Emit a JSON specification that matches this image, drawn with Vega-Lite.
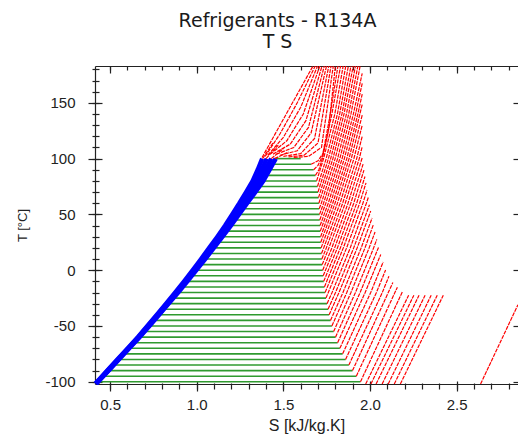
{
  "$schema": "https://vega.github.io/schema/vega-lite/v6.json",
  "width": 423,
  "height": 318,
  "autosize": {"type": "none"},
  "padding": {"left": 95, "top": 66, "right": 0, "bottom": 50},
  "background": "white",
  "config": {
    "view": {"stroke": null},
    "axis": {"grid": false, "labelFont": "Liberation Sans", "titleFont": "Liberation Sans", "domainColor": "#222", "tickColor": "#222", "labelColor": "#222", "titleColor": "#222", "titleFontWeight": "normal", "domainWidth": 1.2, "tickWidth": 1.2}
  },
  "title": {"text": ["Refrigerants - R134A", "T S"], "font": "DejaVu Sans", "fontSize": 19, "fontWeight": "normal", "color": "#1a1a1a", "lineHeight": 21.5, "anchor": "middle", "frame": "group", "dx": -29, "offset": 13},
  "resolve": {"axis": {"x": "independent", "y": "independent"}},
  "datasets": {
    "ax": [{"S": 1, "T": 0}],
    "green": [
      {"T": -100, "a": 0.425, "b": 1.945}, {"T": -95, "a": 0.455, "b": 1.921}, {"T": -90, "a": 0.485, "b": 1.899},
      {"T": -85, "a": 0.515, "b": 1.878}, {"T": -80, "a": 0.545, "b": 1.859}, {"T": -75, "a": 0.575, "b": 1.842},
      {"T": -70, "a": 0.605, "b": 1.826}, {"T": -65, "a": 0.635, "b": 1.813}, {"T": -60, "a": 0.664, "b": 1.801},
      {"T": -55, "a": 0.692, "b": 1.79}, {"T": -50, "a": 0.721, "b": 1.78}, {"T": -45, "a": 0.749, "b": 1.772},
      {"T": -40, "a": 0.777, "b": 1.764}, {"T": -35, "a": 0.805, "b": 1.758}, {"T": -30, "a": 0.832, "b": 1.752},
      {"T": -25, "a": 0.86, "b": 1.746}, {"T": -20, "a": 0.887, "b": 1.741}, {"T": -15, "a": 0.914, "b": 1.737},
      {"T": -10, "a": 0.94, "b": 1.733}, {"T": -5, "a": 0.966, "b": 1.73}, {"T": 0, "a": 0.992, "b": 1.727},
      {"T": 5, "a": 1.018, "b": 1.724}, {"T": 10, "a": 1.043, "b": 1.722}, {"T": 15, "a": 1.068, "b": 1.72},
      {"T": 20, "a": 1.093, "b": 1.718}, {"T": 25, "a": 1.118, "b": 1.716}, {"T": 30, "a": 1.143, "b": 1.715},
      {"T": 35, "a": 1.167, "b": 1.713}, {"T": 40, "a": 1.191, "b": 1.712}, {"T": 45, "a": 1.215, "b": 1.71},
      {"T": 50, "a": 1.238, "b": 1.709}, {"T": 55, "a": 1.262, "b": 1.707}, {"T": 60, "a": 1.285, "b": 1.705},
      {"T": 65, "a": 1.308, "b": 1.703}, {"T": 70, "a": 1.332, "b": 1.7}, {"T": 75, "a": 1.355, "b": 1.697},
      {"T": 80, "a": 1.378, "b": 1.692}, {"T": 85, "a": 1.397, "b": 1.685}, {"T": 90, "a": 1.415, "b": 1.675},
      {"T": 95, "a": 1.433, "b": 1.66}, {"T": 100, "a": 1.45, "b": 1.6}
    ],
    "blue": [
      {"id": "R", "T": -101.5, "S": 0.422}, {"id": "R", "T": -100, "S": 0.431}, {"id": "R", "T": -90, "S": 0.491},
      {"id": "R", "T": -80, "S": 0.551}, {"id": "R", "T": -70, "S": 0.611}, {"id": "R", "T": -60, "S": 0.67},
      {"id": "R", "T": -50, "S": 0.727}, {"id": "R", "T": -40, "S": 0.783}, {"id": "R", "T": -30, "S": 0.838},
      {"id": "R", "T": -20, "S": 0.893}, {"id": "R", "T": -10, "S": 0.946}, {"id": "R", "T": 0, "S": 0.998},
      {"id": "R", "T": 10, "S": 1.049}, {"id": "R", "T": 20, "S": 1.099}, {"id": "R", "T": 30, "S": 1.149},
      {"id": "R", "T": 40, "S": 1.197}, {"id": "R", "T": 50, "S": 1.244}, {"id": "R", "T": 60, "S": 1.291},
      {"id": "R", "T": 70, "S": 1.338}, {"id": "R", "T": 80, "S": 1.384}, {"id": "R", "T": 90, "S": 1.421},
      {"id": "R", "T": 100, "S": 1.456},
      {"id": "M1", "T": -101.5, "S": 0.42}, {"id": "M1", "T": -100, "S": 0.429}, {"id": "M1", "T": -90, "S": 0.489},
      {"id": "M1", "T": -80, "S": 0.548}, {"id": "M1", "T": -70, "S": 0.608}, {"id": "M1", "T": -60, "S": 0.667},
      {"id": "M1", "T": -50, "S": 0.723}, {"id": "M1", "T": -40, "S": 0.779}, {"id": "M1", "T": -30, "S": 0.833},
      {"id": "M1", "T": -20, "S": 0.887}, {"id": "M1", "T": -10, "S": 0.94}, {"id": "M1", "T": 0, "S": 0.991},
      {"id": "M1", "T": 10, "S": 1.041}, {"id": "M1", "T": 20, "S": 1.09}, {"id": "M1", "T": 30, "S": 1.139},
      {"id": "M1", "T": 40, "S": 1.186}, {"id": "M1", "T": 50, "S": 1.231}, {"id": "M1", "T": 60, "S": 1.276},
      {"id": "M1", "T": 70, "S": 1.32}, {"id": "M1", "T": 80, "S": 1.364}, {"id": "M1", "T": 90, "S": 1.398},
      {"id": "M1", "T": 100, "S": 1.43},
      {"id": "M2", "T": -101.5, "S": 0.418}, {"id": "M2", "T": -100, "S": 0.427}, {"id": "M2", "T": -90, "S": 0.486},
      {"id": "M2", "T": -80, "S": 0.545}, {"id": "M2", "T": -70, "S": 0.605}, {"id": "M2", "T": -60, "S": 0.663},
      {"id": "M2", "T": -50, "S": 0.719}, {"id": "M2", "T": -40, "S": 0.774}, {"id": "M2", "T": -30, "S": 0.828},
      {"id": "M2", "T": -20, "S": 0.882}, {"id": "M2", "T": -10, "S": 0.933}, {"id": "M2", "T": 0, "S": 0.984},
      {"id": "M2", "T": 10, "S": 1.033}, {"id": "M2", "T": 20, "S": 1.081}, {"id": "M2", "T": 30, "S": 1.129},
      {"id": "M2", "T": 40, "S": 1.175}, {"id": "M2", "T": 50, "S": 1.218}, {"id": "M2", "T": 60, "S": 1.261},
      {"id": "M2", "T": 70, "S": 1.303}, {"id": "M2", "T": 80, "S": 1.343}, {"id": "M2", "T": 90, "S": 1.375},
      {"id": "M2", "T": 100, "S": 1.404},
      {"id": "L", "T": -101.5, "S": 0.416}, {"id": "L", "T": -100, "S": 0.425}, {"id": "L", "T": -90, "S": 0.484},
      {"id": "L", "T": -80, "S": 0.542}, {"id": "L", "T": -70, "S": 0.602}, {"id": "L", "T": -60, "S": 0.66},
      {"id": "L", "T": -50, "S": 0.715}, {"id": "L", "T": -40, "S": 0.77}, {"id": "L", "T": -30, "S": 0.823},
      {"id": "L", "T": -20, "S": 0.876}, {"id": "L", "T": -10, "S": 0.927}, {"id": "L", "T": 0, "S": 0.977},
      {"id": "L", "T": 10, "S": 1.025}, {"id": "L", "T": 20, "S": 1.072}, {"id": "L", "T": 30, "S": 1.119},
      {"id": "L", "T": 40, "S": 1.164}, {"id": "L", "T": 50, "S": 1.205}, {"id": "L", "T": 60, "S": 1.246},
      {"id": "L", "T": 70, "S": 1.285}, {"id": "L", "T": 80, "S": 1.323}, {"id": "L", "T": 90, "S": 1.352},
      {"id": "L", "T": 100, "S": 1.378}
    ],
    "red": [
      {"id": "L1", "o": 0, "S": 1.975, "T": -102}, {"id": "L1", "o": 1, "S": 2.223, "T": -22.4},
      {"id": "L2", "o": 0, "S": 2.005, "T": -102}, {"id": "L2", "o": 1, "S": 2.253, "T": -22.4},
      {"id": "L3", "o": 0, "S": 2.035, "T": -102}, {"id": "L3", "o": 1, "S": 2.283, "T": -22.4},
      {"id": "L4", "o": 0, "S": 2.07, "T": -102}, {"id": "L4", "o": 1, "S": 2.318, "T": -22.4},
      {"id": "L5", "o": 0, "S": 2.105, "T": -102}, {"id": "L5", "o": 1, "S": 2.353, "T": -22.4},
      {"id": "L6", "o": 0, "S": 2.14, "T": -102}, {"id": "L6", "o": 1, "S": 2.388, "T": -22.4},
      {"id": "L7", "o": 0, "S": 2.175, "T": -102}, {"id": "L7", "o": 1, "S": 2.423, "T": -22.4},
      {"id": "L8", "o": 0, "S": 2.638, "T": -102}, {"id": "L8", "o": 1, "S": 2.854, "T": -30.9},
      {"id": "a-100", "o": 0, "S": 1.945, "T": -100}, {"id": "a-100", "o": 1, "S": 2.187, "T": -19.3},
      {"id": "a-95", "o": 0, "S": 1.921, "T": -95}, {"id": "a-95", "o": 1, "S": 2.158, "T": -15.2},
      {"id": "a-90", "o": 0, "S": 1.899, "T": -90}, {"id": "a-90", "o": 1, "S": 2.132, "T": -11},
      {"id": "a-85", "o": 0, "S": 1.878, "T": -85}, {"id": "a-85", "o": 1, "S": 2.071, "T": -20}, {"id": "a-85", "o": 2, "S": 2.109, "T": -5.5},
      {"id": "a-80", "o": 0, "S": 1.859, "T": -80}, {"id": "a-80", "o": 1, "S": 2.037, "T": -20}, {"id": "a-80", "o": 2, "S": 2.09, "T": 0.2},
      {"id": "a-75", "o": 0, "S": 1.842, "T": -75}, {"id": "a-75", "o": 1, "S": 2.004, "T": -20}, {"id": "a-75", "o": 2, "S": 2.076, "T": 7.3},
      {"id": "a-70", "o": 0, "S": 1.826, "T": -70}, {"id": "a-70", "o": 1, "S": 1.972, "T": -20}, {"id": "a-70", "o": 2, "S": 2.062, "T": 14.1},
      {"id": "a-65", "o": 0, "S": 1.813, "T": -65}, {"id": "a-65", "o": 1, "S": 1.943, "T": -20}, {"id": "a-65", "o": 2, "S": 2.049, "T": 20.4},
      {"id": "a-60", "o": 0, "S": 1.801, "T": -60}, {"id": "a-60", "o": 1, "S": 1.916, "T": -20}, {"id": "a-60", "o": 2, "S": 2.021, "T": 20}, {"id": "a-60", "o": 3, "S": 2.039, "T": 27.6},
      {"id": "a-55", "o": 0, "S": 1.79, "T": -55}, {"id": "a-55", "o": 1, "S": 1.89, "T": -20}, {"id": "a-55", "o": 2, "S": 1.995, "T": 20}, {"id": "a-55", "o": 3, "S": 2.029, "T": 34.2},
      {"id": "a-50", "o": 0, "S": 1.78, "T": -50}, {"id": "a-50", "o": 1, "S": 1.866, "T": -20}, {"id": "a-50", "o": 2, "S": 1.971, "T": 20}, {"id": "a-50", "o": 3, "S": 2.019, "T": 40.6},
      {"id": "a-45", "o": 0, "S": 1.772, "T": -45}, {"id": "a-45", "o": 1, "S": 1.844, "T": -20}, {"id": "a-45", "o": 2, "S": 1.949, "T": 20}, {"id": "a-45", "o": 3, "S": 2.012, "T": 46.8},
      {"id": "a-40", "o": 0, "S": 1.764, "T": -40}, {"id": "a-40", "o": 1, "S": 1.821, "T": -20}, {"id": "a-40", "o": 2, "S": 1.926, "T": 20}, {"id": "a-40", "o": 3, "S": 2.004, "T": 53},
      {"id": "a-35", "o": 0, "S": 1.758, "T": -35}, {"id": "a-35", "o": 1, "S": 1.801, "T": -20}, {"id": "a-35", "o": 2, "S": 1.906, "T": 20}, {"id": "a-35", "o": 3, "S": 1.997, "T": 58.7},
      {"id": "a-30", "o": 0, "S": 1.752, "T": -30}, {"id": "a-30", "o": 1, "S": 1.781, "T": -20}, {"id": "a-30", "o": 2, "S": 1.886, "T": 20}, {"id": "a-30", "o": 3, "S": 1.979, "T": 60}, {"id": "a-30", "o": 4, "S": 1.99, "T": 65.2},
      {"id": "a-25", "o": 0, "S": 1.746, "T": -25}, {"id": "a-25", "o": 1, "S": 1.865, "T": 20}, {"id": "a-25", "o": 2, "S": 1.959, "T": 60}, {"id": "a-25", "o": 3, "S": 1.983, "T": 71.9},
      {"id": "a-20", "o": 0, "S": 1.741, "T": -20}, {"id": "a-20", "o": 1, "S": 1.846, "T": 20}, {"id": "a-20", "o": 2, "S": 1.94, "T": 60}, {"id": "a-20", "o": 3, "S": 1.977, "T": 78.3},
      {"id": "a-15", "o": 0, "S": 1.737, "T": -15}, {"id": "a-15", "o": 1, "S": 1.829, "T": 20}, {"id": "a-15", "o": 2, "S": 1.923, "T": 60}, {"id": "a-15", "o": 3, "S": 1.971, "T": 84},
      {"id": "a-10", "o": 0, "S": 1.733, "T": -10}, {"id": "a-10", "o": 1, "S": 1.812, "T": 20}, {"id": "a-10", "o": 2, "S": 1.906, "T": 60}, {"id": "a-10", "o": 3, "S": 1.965, "T": 89.7},
      {"id": "a-5", "o": 0, "S": 1.73, "T": -5}, {"id": "a-5", "o": 1, "S": 1.796, "T": 20}, {"id": "a-5", "o": 2, "S": 1.889, "T": 60}, {"id": "a-5", "o": 3, "S": 1.96, "T": 95},
      {"id": "a0", "o": 0, "S": 1.727, "T": 0}, {"id": "a0", "o": 1, "S": 1.78, "T": 20}, {"id": "a0", "o": 2, "S": 1.873, "T": 60}, {"id": "a0", "o": 3, "S": 1.955, "T": 100.8},
      {"id": "a5", "o": 0, "S": 1.724, "T": 5}, {"id": "a5", "o": 1, "S": 1.763, "T": 20}, {"id": "a5", "o": 2, "S": 1.857, "T": 60}, {"id": "a5", "o": 3, "S": 1.938, "T": 100}, {"id": "a5", "o": 4, "S": 1.955, "T": 110.8},
      {"id": "a10", "o": 0, "S": 1.722, "T": 10}, {"id": "a10", "o": 1, "S": 1.748, "T": 20}, {"id": "a10", "o": 2, "S": 1.842, "T": 60}, {"id": "a10", "o": 3, "S": 1.923, "T": 100}, {"id": "a10", "o": 4, "S": 1.955, "T": 120},
      {"id": "a15", "o": 0, "S": 1.72, "T": 15}, {"id": "a15", "o": 1, "S": 1.733, "T": 20}, {"id": "a15", "o": 2, "S": 1.827, "T": 60}, {"id": "a15", "o": 3, "S": 1.907, "T": 100}, {"id": "a15", "o": 4, "S": 1.955, "T": 130},
      {"id": "a20", "o": 0, "S": 1.718, "T": 20}, {"id": "a20", "o": 1, "S": 1.812, "T": 60}, {"id": "a20", "o": 2, "S": 1.892, "T": 100}, {"id": "a20", "o": 3, "S": 1.955, "T": 139},
      {"id": "a25", "o": 0, "S": 1.716, "T": 25}, {"id": "a25", "o": 1, "S": 1.798, "T": 60}, {"id": "a25", "o": 2, "S": 1.879, "T": 100}, {"id": "a25", "o": 3, "S": 1.955, "T": 148.6},
      {"id": "a30", "o": 0, "S": 1.715, "T": 30}, {"id": "a30", "o": 1, "S": 1.785, "T": 60}, {"id": "a30", "o": 2, "S": 1.866, "T": 100}, {"id": "a30", "o": 3, "S": 1.93, "T": 140}, {"id": "a30", "o": 4, "S": 1.955, "T": 157.8},
      {"id": "a35", "o": 0, "S": 1.713, "T": 35}, {"id": "a35", "o": 1, "S": 1.772, "T": 60}, {"id": "a35", "o": 2, "S": 1.852, "T": 100}, {"id": "a35", "o": 3, "S": 1.917, "T": 140}, {"id": "a35", "o": 4, "S": 1.955, "T": 167.5},
      {"id": "a40", "o": 0, "S": 1.712, "T": 40}, {"id": "a40", "o": 1, "S": 1.759, "T": 60}, {"id": "a40", "o": 2, "S": 1.839, "T": 100}, {"id": "a40", "o": 3, "S": 1.904, "T": 140}, {"id": "a40", "o": 4, "S": 1.955, "T": 176.5},
      {"id": "a45", "o": 0, "S": 1.71, "T": 45}, {"id": "a45", "o": 1, "S": 1.745, "T": 60}, {"id": "a45", "o": 2, "S": 1.826, "T": 100}, {"id": "a45", "o": 3, "S": 1.89, "T": 140}, {"id": "a45", "o": 4, "S": 1.943, "T": 183},
      {"id": "a50", "o": 0, "S": 1.709, "T": 50}, {"id": "a50", "o": 1, "S": 1.732, "T": 60}, {"id": "a50", "o": 2, "S": 1.813, "T": 100}, {"id": "a50", "o": 3, "S": 1.877, "T": 140}, {"id": "a50", "o": 4, "S": 1.93, "T": 183},
      {"id": "a55", "o": 0, "S": 1.707, "T": 55}, {"id": "a55", "o": 1, "S": 1.719, "T": 60}, {"id": "a55", "o": 2, "S": 1.799, "T": 100}, {"id": "a55", "o": 3, "S": 1.864, "T": 140}, {"id": "a55", "o": 4, "S": 1.916, "T": 183},
      {"id": "a60", "o": 0, "S": 1.705, "T": 60}, {"id": "a60", "o": 1, "S": 1.786, "T": 100}, {"id": "a60", "o": 2, "S": 1.85, "T": 140}, {"id": "a60", "o": 3, "S": 1.903, "T": 183},
      {"id": "a65", "o": 0, "S": 1.703, "T": 65}, {"id": "a65", "o": 1, "S": 1.773, "T": 100}, {"id": "a65", "o": 2, "S": 1.838, "T": 140}, {"id": "a65", "o": 3, "S": 1.89, "T": 183},
      {"id": "a70", "o": 0, "S": 1.7, "T": 70}, {"id": "a70", "o": 1, "S": 1.76, "T": 100}, {"id": "a70", "o": 2, "S": 1.825, "T": 140}, {"id": "a70", "o": 3, "S": 1.875, "T": 183},
      {"id": "a75", "o": 0, "S": 1.697, "T": 75}, {"id": "a75", "o": 1, "S": 1.747, "T": 100}, {"id": "a75", "o": 2, "S": 1.812, "T": 140}, {"id": "a75", "o": 3, "S": 1.86, "T": 183},
      {"id": "a80", "o": 0, "S": 1.692, "T": 80}, {"id": "a80", "o": 1, "S": 1.732, "T": 100}, {"id": "a80", "o": 2, "S": 1.797, "T": 140}, {"id": "a80", "o": 3, "S": 1.845, "T": 183},
      {"id": "a85", "o": 0, "S": 1.685, "T": 85}, {"id": "a85", "o": 1, "S": 1.705, "T": 90}, {"id": "a85", "o": 2, "S": 1.725, "T": 100}, {"id": "a85", "o": 3, "S": 1.78, "T": 140}, {"id": "a85", "o": 4, "S": 1.83, "T": 183},
      {"id": "a90", "o": 0, "S": 1.675, "T": 90}, {"id": "a90", "o": 1, "S": 1.7, "T": 94}, {"id": "a90", "o": 2, "S": 1.725, "T": 102}, {"id": "a90", "o": 3, "S": 1.765, "T": 135}, {"id": "a90", "o": 4, "S": 1.815, "T": 183},
      {"id": "a95", "o": 0, "S": 1.66, "T": 95}, {"id": "a95", "o": 1, "S": 1.7, "T": 98}, {"id": "a95", "o": 2, "S": 1.73, "T": 105}, {"id": "a95", "o": 3, "S": 1.76, "T": 125}, {"id": "a95", "o": 4, "S": 1.8, "T": 183},
      {"id": "f0", "o": 0, "S": 1.377, "T": 101}, {"id": "f0", "o": 1, "S": 1.671, "T": 183},
      {"id": "f1", "o": 0, "S": 1.395, "T": 102}, {"id": "f1", "o": 1, "S": 1.48, "T": 122}, {"id": "f1", "o": 2, "S": 1.58, "T": 150}, {"id": "f1", "o": 3, "S": 1.684, "T": 183},
      {"id": "f2", "o": 0, "S": 1.41, "T": 103}, {"id": "f2", "o": 1, "S": 1.5, "T": 119}, {"id": "f2", "o": 2, "S": 1.6, "T": 146}, {"id": "f2", "o": 3, "S": 1.697, "T": 183},
      {"id": "f3", "o": 0, "S": 1.425, "T": 104}, {"id": "f3", "o": 1, "S": 1.52, "T": 116}, {"id": "f3", "o": 2, "S": 1.615, "T": 140}, {"id": "f3", "o": 3, "S": 1.71, "T": 183},
      {"id": "f4", "o": 0, "S": 1.44, "T": 104}, {"id": "f4", "o": 1, "S": 1.54, "T": 113}, {"id": "f4", "o": 2, "S": 1.63, "T": 134}, {"id": "f4", "o": 3, "S": 1.723, "T": 183},
      {"id": "f5", "o": 0, "S": 1.46, "T": 104}, {"id": "f5", "o": 1, "S": 1.56, "T": 110}, {"id": "f5", "o": 2, "S": 1.645, "T": 128}, {"id": "f5", "o": 3, "S": 1.736, "T": 183},
      {"id": "f6", "o": 0, "S": 1.48, "T": 103}, {"id": "f6", "o": 1, "S": 1.58, "T": 107}, {"id": "f6", "o": 2, "S": 1.66, "T": 123}, {"id": "f6", "o": 3, "S": 1.749, "T": 183},
      {"id": "f7", "o": 0, "S": 1.5, "T": 102}, {"id": "f7", "o": 1, "S": 1.6, "T": 104.5}, {"id": "f7", "o": 2, "S": 1.68, "T": 118}, {"id": "f7", "o": 3, "S": 1.762, "T": 183},
      {"id": "f8", "o": 0, "S": 1.53, "T": 101.5}, {"id": "f8", "o": 1, "S": 1.62, "T": 103}, {"id": "f8", "o": 2, "S": 1.7, "T": 114}, {"id": "f8", "o": 3, "S": 1.775, "T": 183},
      {"id": "f9", "o": 0, "S": 1.56, "T": 101}, {"id": "f9", "o": 1, "S": 1.645, "T": 102}, {"id": "f9", "o": 2, "S": 1.72, "T": 110}, {"id": "f9", "o": 3, "S": 1.788, "T": 183},
      {"id": "b1", "o": 0, "S": 1.38, "T": 100}, {"id": "b1", "o": 1, "S": 1.44, "T": 114},
      {"id": "b2", "o": 0, "S": 1.4, "T": 100}, {"id": "b2", "o": 1, "S": 1.47, "T": 112},
      {"id": "b3", "o": 0, "S": 1.43, "T": 100}, {"id": "b3", "o": 1, "S": 1.5, "T": 109},
      {"id": "b4", "o": 0, "S": 1.45, "T": 100}, {"id": "b4", "o": 1, "S": 1.53, "T": 106}
    ]
  },
  "layer": [
    {
      "data": {"name": "green"},
      "mark": {"type": "rule", "color": "#2f9a2f", "strokeWidth": 1.6},
      "encoding": {
        "x": {"field": "a", "type": "quantitative", "scale": {"domain": [0.413, 2.854], "nice": false, "zero": false}, "axis": null},
        "x2": {"field": "b"},
        "y": {"field": "T", "type": "quantitative", "scale": {"domain": [-102, 183], "nice": false, "zero": false}, "axis": null}
      }
    },
    {
      "data": {"name": "blue"},
      "mark": {"type": "line", "color": "#0000ff", "strokeWidth": 4.5},
      "encoding": {
        "x": {"field": "S", "type": "quantitative", "scale": {"domain": [0.413, 2.854], "nice": false, "zero": false}, "axis": null},
        "y": {"field": "T", "type": "quantitative", "scale": {"domain": [-102, 183], "nice": false, "zero": false}, "axis": null},
        "detail": {"field": "id"},
        "order": {"field": "T"}
      }
    },
    {
      "data": {"name": "red"},
      "mark": {"type": "line", "color": "#ff0000", "strokeWidth": 1.2, "strokeDash": [4, 1], "clip": true},
      "encoding": {
        "x": {"field": "S", "type": "quantitative", "scale": {"domain": [0.413, 2.854], "nice": false, "zero": false}, "axis": null},
        "y": {"field": "T", "type": "quantitative", "scale": {"domain": [-102, 183], "nice": false, "zero": false}, "axis": null},
        "detail": {"field": "id"},
        "order": {"field": "o"}
      }
    },
    {
      "data": {"name": "ax"},
      "mark": {"type": "point", "opacity": 0},
      "encoding": {
        "x": {"field": "S", "type": "quantitative", "scale": {"domain": [0.413, 2.854], "nice": false, "zero": false},
              "axis": {"orient": "bottom", "domain": true, "ticks": false, "labels": false, "title": null}},
        "y": {"field": "T", "type": "quantitative", "scale": {"domain": [-102, 183], "nice": false, "zero": false},
              "axis": {"orient": "left", "domain": true, "ticks": false, "labels": false, "title": null}}
      }
    },
    {
      "data": {"name": "ax"},
      "mark": {"type": "point", "opacity": 0},
      "encoding": {
        "x": {"field": "S", "type": "quantitative", "scale": {"domain": [0.413, 2.854], "nice": false, "zero": false},
              "axis": {"orient": "bottom", "domain": false, "labels": false, "title": null, "offset": -1, "tickSize": 6,
                       "values": [0.5, 0.6, 0.7, 0.8, 0.9, 1.0, 1.1, 1.2, 1.3, 1.4, 1.5, 1.6, 1.7, 1.8, 1.9, 2.0, 2.1, 2.2, 2.3, 2.4, 2.5, 2.6, 2.7, 2.8]}},
        "y": {"field": "T", "type": "quantitative", "scale": {"domain": [-102, 183], "nice": false, "zero": false},
              "axis": {"orient": "left", "domain": false, "labels": false, "title": null, "offset": -4, "tickSize": 7,
                       "values": [-100, -90, -80, -70, -60, -50, -40, -30, -20, -10, 0, 10, 20, 30, 40, 50, 60, 70, 80, 90, 100, 110, 120, 130, 140, 150, 160, 170, 180]}}
      }
    },
    {
      "data": {"name": "ax"},
      "mark": {"type": "point", "opacity": 0},
      "encoding": {
        "x": {"field": "S", "type": "quantitative", "scale": {"domain": [0.413, 2.854], "nice": false, "zero": false},
              "axis": {"orient": "bottom", "domain": false, "offset": -3, "tickSize": 10, "values": [0.5, 1.0, 1.5, 2.0, 2.5], "format": ".1f",
                       "labelFontSize": 15, "labelPadding": 6, "title": "S [kJ/kg.K]", "titleFontSize": 16, "titlePadding": 5}},
        "y": {"field": "T", "type": "quantitative", "scale": {"domain": [-102, 183], "nice": false, "zero": false},
              "axis": {"orient": "left", "domain": false, "offset": -7, "tickSize": 14, "values": [-100, -50, 0, 50, 100, 150],
                       "labelExpr": "datum.value < 0 ? '-' + abs(datum.value) : '' + datum.value",
                       "labelFontSize": 15, "labelPadding": 13, "title": "T [°C]", "titleFontSize": 13, "titlePadding": 15}}
      }
    },
    {
      "data": {"name": "ax"},
      "mark": {"type": "point", "opacity": 0},
      "encoding": {
        "x": {"field": "S", "type": "quantitative", "scale": {"domain": [0.413, 2.854], "nice": false, "zero": false},
              "axis": {"orient": "top", "domain": false, "labels": false, "title": null, "offset": -4, "tickSize": 4,
                       "values": [0.5, 0.6, 0.7, 0.8, 0.9, 1.0, 1.1, 1.2, 1.3, 1.4, 1.5, 1.6, 1.7, 1.8, 1.9, 2.0, 2.1, 2.2, 2.3, 2.4, 2.5, 2.6, 2.7, 2.8]}},
        "y": {"field": "T", "type": "quantitative", "scale": {"domain": [-102, 183], "nice": false, "zero": false},
              "axis": {"orient": "right", "domain": false, "labels": false, "title": null, "offset": -5, "tickSize": 5,
                       "values": [-100, -50, 0, 50, 100, 150]}}
      }
    },
    {
      "data": {"name": "ax"},
      "mark": {"type": "point", "opacity": 0},
      "encoding": {
        "x": {"field": "S", "type": "quantitative", "scale": {"domain": [0.413, 2.854], "nice": false, "zero": false},
              "axis": {"orient": "top", "domain": false, "labels": false, "title": null, "offset": -7, "tickSize": 7,
                       "values": [0.5, 1.0, 1.5, 2.0, 2.5]}},
        "y": {"field": "T", "type": "quantitative", "scale": {"domain": [-102, 183], "nice": false, "zero": false}, "axis": null}
      }
    },
    {
      "data": {"name": "ax"},
      "mark": {"type": "point", "opacity": 0},
      "encoding": {
        "x": {"field": "S", "type": "quantitative", "scale": {"domain": [0.413, 2.854], "nice": false, "zero": false},
              "axis": {"orient": "top", "domain": true, "ticks": false, "labels": false, "title": null}},
        "y": {"field": "T", "type": "quantitative", "scale": {"domain": [-102, 183], "nice": false, "zero": false}, "axis": null}
      }
    }
  ]
}
